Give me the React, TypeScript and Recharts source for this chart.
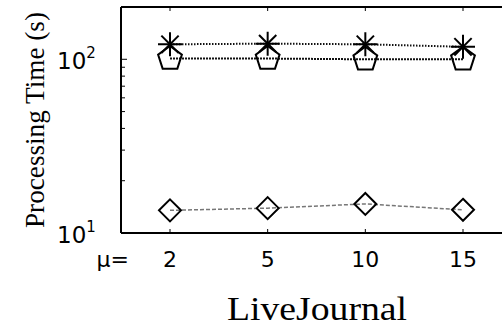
import { LineChart, Line, XAxis, YAxis } from 'recharts'

const muValues = ['2', '5', '10', '15']
const starTimes = [122, 123, 122, 118]
const pentagonTimes = [101, 101, 100, 100]
const diamondTimes = [13.5, 13.9, 14.7, 13.6]
const yTicks = [10, 20, 30, 40, 50, 60, 70, 80, 90, 100, 200]
const yMajor: Record<number, string> = { 10: '1', 100: '2' }

const data = muValues.map((mu, i) => ({
  mu,
  star: starTimes[i],
  pentagon: pentagonTimes[i],
  diamond: diamondTimes[i],
}))

const sans = '"DejaVu Sans", Arial, sans-serif'
const serif = '"Liberation Serif", "Times New Roman", serif'

function StarDot(p: any) {
  const { cx, cy, index } = p
  const r = 12
  const d = r * 0.72
  return (
    <g key={`st-${index}`} stroke="#000" strokeWidth={2}>
      <line x1={cx - r} y1={cy} x2={cx + r} y2={cy} />
      <line x1={cx} y1={cy - r} x2={cx} y2={cy + r} />
      <line x1={cx - d} y1={cy - d} x2={cx + d} y2={cy + d} />
      <line x1={cx - d} y1={cy + d} x2={cx + d} y2={cy - d} />
    </g>
  )
}

function PentagonDot(p: any) {
  const { cx, cy, index } = p
  const r = 12.5
  const pts = [0, 1, 2, 3, 4]
    .map(k => {
      const a = (-90 + k * 72) * Math.PI / 180
      return `${cx + r * Math.cos(a)},${cy + r * Math.sin(a)}`
    })
    .join(' ')
  return <polygon key={`pg-${index}`} points={pts} fill="none" stroke="#000" strokeWidth={2} />
}

function DiamondDot(p: any) {
  const { cx, cy, index } = p
  const r = 11
  const pts = `${cx},${cy - r} ${cx + r},${cy} ${cx},${cy + r} ${cx - r},${cy}`
  return <polygon key={`dm-${index}`} points={pts} fill="none" stroke="#000" strokeWidth={2} />
}

function YTick(p: any) {
  const { x, y, payload } = p
  const exp = yMajor[payload.value]
  return (
    <g>
      <line x1={x} y1={y} x2={x + (exp ? 6 : 4)} y2={y} stroke="#000" strokeWidth={1} />
      {exp && (
        <text x={x - 64} y={y + 10} fontFamily={sans} fontSize={23} fill="#000">
          10
          <tspan dy={-11} fontSize={15}>{exp}</tspan>
        </text>
      )}
    </g>
  )
}

function XTick(p: any) {
  const { x, y, payload } = p
  return (
    <g>
      <line x1={x} y1={y} x2={x} y2={y - 4} stroke="#000" strokeWidth={1} />
      <text x={x} y={y + 34} textAnchor="middle" fontFamily={sans} fontSize={22} fill="#000">
        {payload.value}
      </text>
    </g>
  )
}

function TopTick(p: any) {
  const { x, y } = p
  return <line x1={x} y1={y} x2={x} y2={y + 4} stroke="#000" strokeWidth={1} />
}

export default function App() {
  return (
    <div style={{ position: 'fixed', left: 0, top: 0, width: 502, height: 326, overflow: 'hidden', background: '#fff' }}>
      <LineChart width={540} height={326} data={data} margin={{ top: 6, right: 28, left: 0, bottom: 0 }}>
        <XAxis
          dataKey="mu"
          height={93}
          padding={{ left: 49, right: 49 }}
          axisLine={{ stroke: '#000', strokeWidth: 2 }}
          tickLine={false}
          tickSize={0}
          tickMargin={0}
          tick={<XTick />}
          interval={0}
          label={(props: any) => {
            const vb = props.viewBox
            return (
              <g>
                <text x={vb.x + 8} y={vb.y + 34} textAnchor="end" fontFamily={sans} fontSize={22} fill="#000">
                  μ=
                </text>
                <text x={317} y={320} textAnchor="middle" fontFamily={serif} fontSize={34} textLength={180} lengthAdjust="spacingAndGlyphs" fill="#000">
                  LiveJournal
                </text>
              </g>
            )
          }}
        />
        <XAxis
          xAxisId="top"
          dataKey="mu"
          orientation="top"
          height={1}
          padding={{ left: 49, right: 49 }}
          axisLine={{ stroke: '#000', strokeWidth: 2 }}
          tickLine={false}
          tickSize={0}
          tickMargin={0}
          tick={<TopTick />}
          interval={0}
        />
        <YAxis
          scale="log"
          type="number"
          domain={[10, 200]}
          allowDataOverflow
          ticks={yTicks}
          interval={0}
          width={121}
          axisLine={{ stroke: '#000', strokeWidth: 2 }}
          tickLine={false}
          tickSize={0}
          tickMargin={0}
          tick={<YTick />}
          label={(props: any) => {
            const vb = props.viewBox
            const cy = vb.y + vb.height / 2
            return (
              <text x={44} y={cy} transform={`rotate(-90 44 ${cy})`} textAnchor="middle" fontFamily={serif} fontSize={27} textLength={216} lengthAdjust="spacingAndGlyphs" fill="#000">
                Processing Time (s)
              </text>
            )
          }}
        />
        <Line dataKey="star" stroke="#111" strokeWidth={2} strokeDasharray="1.5 1.5" dot={StarDot} isAnimationActive={false} />
        <Line dataKey="pentagon" stroke="#111" strokeWidth={2} strokeDasharray="2 1" dot={PentagonDot} isAnimationActive={false} />
        <Line dataKey="diamond" stroke="#777" strokeWidth={1.5} strokeDasharray="4 2" dot={DiamondDot} isAnimationActive={false} />
      </LineChart>
    </div>
  )
}
